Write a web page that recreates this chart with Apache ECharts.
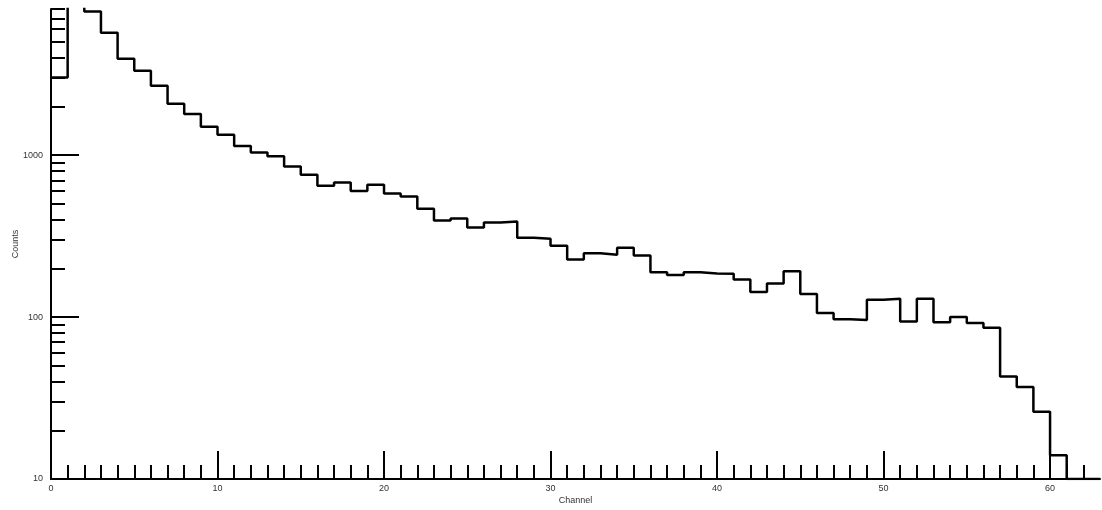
<!DOCTYPE html>
<html>
<head>
<meta charset="utf-8">
<script src="https://cdn.jsdelivr.net/npm/echarts@6/dist/echarts.min.js"></script>
<style>
  html, body { margin: 0; padding: 0; background: #fff; }
  #main { width: 1102px; height: 510px; }
</style>
</head>
<body>
<div id="main"></div>
<script>
// counts per channel bin (bin i covers [i, i+1)); bin 1 is off the top of the plot
var counts = [3020, 9500, 7710, 5700, 3940, 3330, 2690, 2080, 1800, 1500,
  1340, 1140, 1040, 986, 852, 757, 647, 678, 600, 657,
  580, 556, 467, 395, 407, 358, 384, 390, 309, 305,
  276, 227, 248, 243, 268, 240, 189, 182, 189, 186,
  185, 171, 143, 161, 192, 139, 106, 97, 96, 128,
  130, 94, 130, 93, 100, 92, 86, 43, 37, 26,
  14, 10, 10];

var xMajor = [0, 10, 20, 30, 40, 50, 60];
var xMinor = [];
for (var i = 1; i < 63; i++) { if (i % 10 !== 0) xMinor.push(i); }
var yMajor = [10, 100, 1000];
var yMinor = [20, 30, 40, 50, 60, 70, 80, 90, 200, 300, 400, 500, 600, 700, 800, 900,
  2000, 3000, 4000, 5000, 6000, 7000, 8000];

var steps = counts.map(function (c, i) { return [i, c]; });
steps.push([counts.length, counts[counts.length - 1]]);

var chart = echarts.init(document.getElementById('main'));
var labelStyle = { color: '#333', fontSize: 9, fontFamily: 'Liberation Sans' };
var plain = function (v) { return String(v); };

chart.setOption({
  animation: false,
  grid: { left: 51, right: 2, top: 9, bottom: 31, outerBoundsMode: 'none', containLabel: false },
  xAxis: [{
    type: 'value',
    min: 0,
    max: 63,
    name: 'Channel',
    nameLocation: 'middle',
    nameGap: 17,
    nameMoveOverlap: false,
    nameTextStyle: labelStyle,
    splitLine: { show: false },
    axisLine: { show: true, onZero: false, lineStyle: { color: '#000', width: 2 } },
    axisTick: { inside: true, length: 14, customValues: xMinor, lineStyle: { color: '#000', width: 2 } },
    axisLabel: Object.assign({ margin: 5, customValues: xMajor, formatter: plain }, labelStyle)
  }, {
    type: 'value',
    min: 0,
    max: 63,
    position: 'bottom',
    splitLine: { show: false },
    axisLine: { show: false },
    axisTick: { inside: true, length: 28, customValues: xMajor, lineStyle: { color: '#000', width: 2 } },
    axisLabel: { show: false }
  }],
  yAxis: [{
    type: 'log',
    min: 10,
    max: 8000,
    name: 'Counts',
    nameLocation: 'middle',
    nameGap: 31,
    nameMoveOverlap: false,
    nameTextStyle: labelStyle,
    splitLine: { show: false },
    axisLine: { show: true, onZero: false, lineStyle: { color: '#000', width: 2 } },
    axisTick: { inside: true, length: 28, customValues: yMajor, lineStyle: { color: '#000', width: 2 } },
    axisLabel: Object.assign({ margin: 8, customValues: yMajor, formatter: plain }, labelStyle)
  }, {
    type: 'log',
    min: 10,
    max: 8000,
    position: 'left',
    splitLine: { show: false },
    axisLine: { show: false },
    axisTick: { inside: true, length: 14, customValues: yMinor, lineStyle: { color: '#000', width: 2 } },
    axisLabel: { show: false }
  }],
  series: [{
    type: 'line',
    step: 'end',
    xAxisIndex: 0,
    yAxisIndex: 0,
    data: steps,
    symbol: 'none',
    clip: true,
    lineStyle: { color: '#000', width: 2.5 }
  }]
});
</script>
</body>
</html>
